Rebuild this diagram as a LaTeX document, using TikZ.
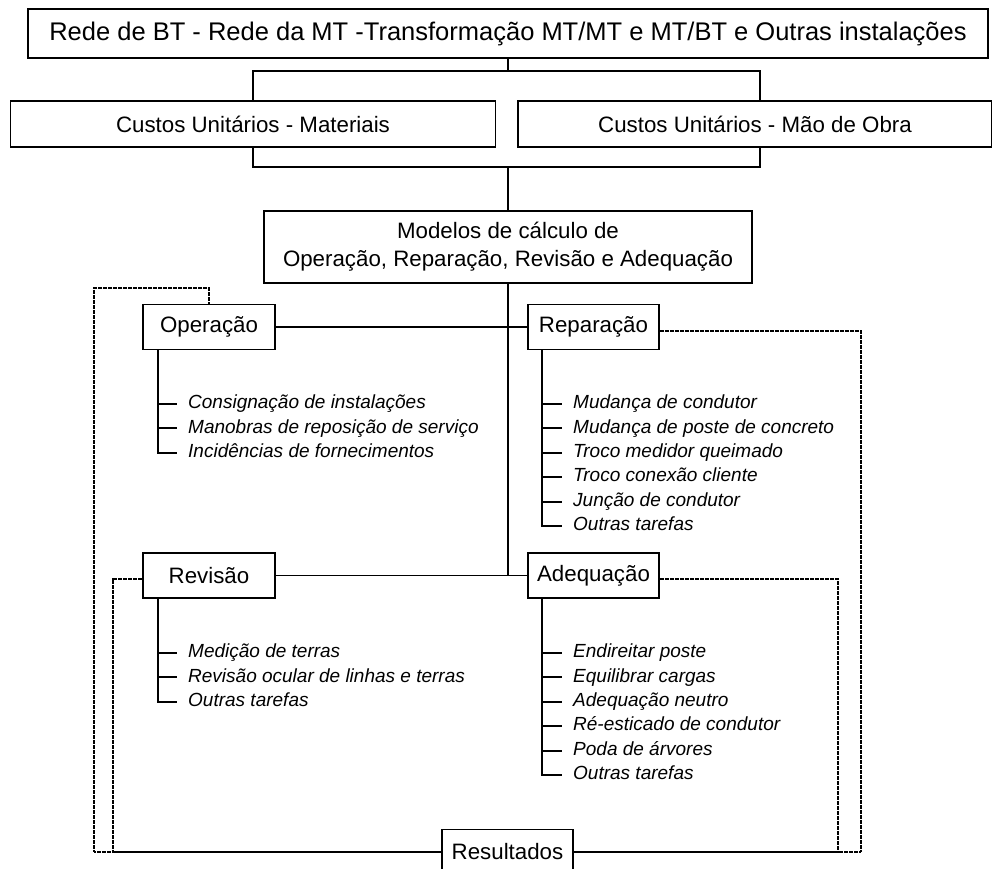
\documentclass[tikz,border=0pt]{standalone}
\usepackage{fontspec}
\setmainfont{Liberation Sans}
\usetikzlibrary{calc}
\tikzset{
  caixa/.style={draw, line width=1.9pt, minimum height=45pt, inner sep=0pt, font=\fontsize{22.3}{28}\selectfont},
  tarefa/.style={anchor=west, inner xsep=11pt, inner ysep=0pt, text height=13.5pt, text depth=4pt, font=\fontsize{19}{22}\selectfont\itshape},
  liga/.style={line width=1.9pt},
  retorno/.style={line width=1.4pt, dash pattern=on 1.6pt off 0.9pt},
}

\begin{document}
\begin{tikzpicture}[x=1pt,y=-1pt]
        \useasboundingbox (0,0) rectangle (992,868);
        % caixas principais
        \node[caixa, minimum width=960pt, minimum height=49pt, font=\fontsize{25.5}{30}\selectfont] (rede) at (508,33.5) {Rede de BT - Rede da MT -Transformação MT/MT e MT/BT e Outras instalações};
        \node[caixa, minimum width=485pt, minimum height=46pt] (mat) at (253,124) {Custos Unitários - Materiais};
        \node[caixa, minimum width=474pt, minimum height=46pt] (mao) at (755,124) {Custos Unitários - Mão de Obra};
        \node[caixa, minimum width=488pt, minimum height=72pt, align=center] (mod) at (508,247) {Modelos de cálculo de\\ Operação, Reparação, Revisão e Adequação};
        \node[caixa, minimum width=132pt] (ope) at (209,327) {Operação};
        \node[caixa, minimum width=131pt] (rep) at (593.5,327) {Reparação};
        \node[caixa, minimum width=132pt] (rev) at (209,575.5) {Revisão};
        \node[caixa, minimum width=131pt] (ade) at (593.5,575.5) {Adequação};
        \node[caixa, minimum width=131pt] (res) at (507.5,852) {Resultados};
        % ligacoes
        \coordinate (j1) at (508,71);
        \coordinate (j2) at (508,167);
        \draw[liga] (rede.south) -- (j1);
        \draw[liga] (mat.north) |- (j1) -| ([xshift=5pt]mao.north);
        \draw[liga] (mat.south) |- (j2) -| ([xshift=5pt]mao.south);
        \draw[liga] (j2) -- (mod.north);
        \draw[liga] (mod.south) -- (mod.south |- rev.east);
        \draw[liga] (ope) -- (rep);
        \draw[liga] (rev) -- (ade);
        % tarefas - operacao
        \node[tarefa] (o1) at (177,404) {Consignação de instalações};
        \node[tarefa] (o2) at (177,428.4) {Manobras de reposição de serviço};
        \node[tarefa] (o3) at (177,452.8) {Incidências de fornecimentos};
        \coordinate (ot) at ([xshift=16pt]ope.south west);
        \draw[liga] (ot) |- (o3);
        \draw[liga] (ot |- o1) -- (o1);
        \draw[liga] (ot |- o2) -- (o2);
        % tarefas - reparacao
        \node[tarefa] (r1) at (562,404) {Mudança de condutor};
        \node[tarefa] (r2) at (562,428.4) {Mudança de poste de concreto};
        \node[tarefa] (r3) at (562,452.8) {Troco medidor queimado};
        \node[tarefa] (r4) at (562,477.2) {Troco conexão cliente};
        \node[tarefa] (r5) at (562,501.6) {Junção de condutor};
        \node[tarefa] (r6) at (562,526) {Outras tarefas};
        \coordinate (rt) at ([xshift=15pt]rep.south west);
        \draw[liga] (rt) |- (r6);
        \draw[liga] (rt |- r1) -- (r1);
        \draw[liga] (rt |- r2) -- (r2);
        \draw[liga] (rt |- r3) -- (r3);
        \draw[liga] (rt |- r4) -- (r4);
        \draw[liga] (rt |- r5) -- (r5);
        % tarefas - revisao
        \node[tarefa] (v1) at (177,653) {Medição de terras};
        \node[tarefa] (v2) at (177,677.4) {Revisão ocular de linhas e terras};
        \node[tarefa] (v3) at (177,701.8) {Outras tarefas};
        \coordinate (vt) at ([xshift=16pt]rev.south west);
        \draw[liga] (vt) |- (v3);
        \draw[liga] (vt |- v1) -- (v1);
        \draw[liga] (vt |- v2) -- (v2);
        % tarefas - adequacao
        \node[tarefa] (a1) at (562,653) {Endireitar poste};
        \node[tarefa] (a2) at (562,677.4) {Equilibrar cargas};
        \node[tarefa] (a3) at (562,701.8) {Adequação neutro};
        \node[tarefa] (a4) at (562,726.2) {Ré-esticado de condutor};
        \node[tarefa] (a5) at (562,750.6) {Poda de árvores};
        \node[tarefa] (a6) at (562,775) {Outras tarefas};
        \coordinate (at) at ([xshift=15pt]ade.south west);
        \draw[liga] (at) |- (a6);
        \draw[liga] (at |- a1) -- (a1);
        \draw[liga] (at |- a2) -- (a2);
        \draw[liga] (at |- a3) -- (a3);
        \draw[liga] (at |- a4) -- (a4);
        \draw[liga] (at |- a5) -- (a5);
        % retornos pontilhados
        \coordinate (c1) at (209,288);
        \coordinate (c2) at (94,288);
        \coordinate (c3) at (94,852);
        \coordinate (c4) at (113,852);
        \coordinate (c5) at (861,852);
        \coordinate (c6) at (838,852);
        \draw[retorno] (ope.north) -- (c1) -- (c2) -- (c3) -- (res.west);
        \draw[retorno] ([yshift=-3.5pt]rev.west) -| (c4) -- (res.west);
        \draw[retorno] ([yshift=-4pt]rep.east) -| (c5) -- (res.east);
        \draw[retorno] ([yshift=-3.5pt]ade.east) -| (c6) -- (res.east);
\end{tikzpicture}
\end{document}
